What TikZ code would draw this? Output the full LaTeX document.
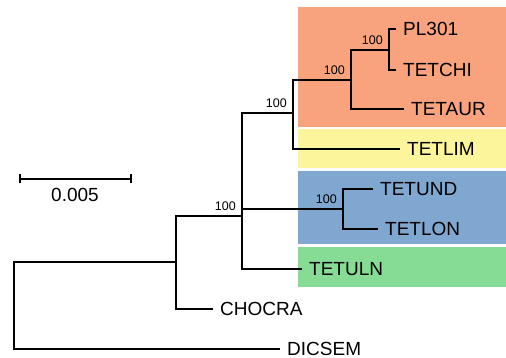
\documentclass[tikz,border=0pt]{standalone}
\usepackage{fontspec}
\setmainfont{Liberation Sans}
\definecolor{cladeorange}{RGB}{248,163,125}
\definecolor{cladeyellow}{RGB}{253,245,155}
\definecolor{cladeblue}{RGB}{127,167,207}
\definecolor{cladegreen}{RGB}{134,220,148}
\tikzset{
  branch/.style={draw=black, line width=1.8pt},
  leaf/.style={anchor=west, inner xsep=7pt, inner ysep=0pt, font=\fontsize{19}{22}\selectfont},
  boot/.style={anchor=south east, inner sep=0pt, font=\fontsize{12.5}{14}\selectfont, xshift=-6pt, yshift=5pt},
  clade/.style={draw=none}
}
\begin{document}
\begin{tikzpicture}[x=1pt,y=-1pt]
\useasboundingbox (0,0) rectangle (506,358);
% clade boxes
\fill[cladeorange] (298,7) rectangle (506,127);
\fill[cladeyellow] (298,129) rectangle (506,168);
\fill[cladeblue] (298,171) rectangle (506,244);
\fill[cladegreen] (298,247) rectangle (506,287);
% internal nodes
\coordinate (root) at (14,305);
\coordinate (n1) at (176,262);
\coordinate (n2) at (242,216);
\coordinate (n3) at (293,113);
\coordinate (n4) at (351,80);
\coordinate (n6) at (389,50);
\coordinate (n5) at (343,209);
% leaves
\node[leaf] (pl) at (396,29) {PL301};
\node[leaf] (tetchi) at (396,70) {TETCHI};
\node[leaf] (tetaur) at (404,109) {TETAUR};
\node[leaf] (tetlim) at (400,149) {TETLIM};
\node[leaf] (tetund) at (373,189) {TETUND};
\node[leaf] (tetlon) at (378,229) {TETLON};
\node[leaf] (tetuln) at (302,269) {TETULN};
\node[leaf] (chocra) at (213,309) {CHOCRA};
\node[leaf] (dicsem) at (280,349) {DICSEM};
% branches
\draw[branch] (root) |- (n1);
\draw[branch] (root) |- (dicsem);
\draw[branch] (n1) |- (n2);
\draw[branch] (n1) |- (chocra);
\draw[branch] (n2) |- (n3);
\draw[branch] (n2) |- (n5);
\draw[branch] (n2) |- (tetuln);
\draw[branch] (n3) |- (n4);
\draw[branch] (n3) |- (tetlim);
\draw[branch] (n4) |- (n6);
\draw[branch] (n4) |- (tetaur);
\draw[branch] (n6) |- (pl);
\draw[branch] (n6) |- (tetchi);
\draw[branch] (n5) |- (tetund);
\draw[branch] (n5) |- (tetlon);
% bootstrap values
\node[boot] (b2) at (n2) {100};
\node[boot] (b3) at (n3) {100};
\node[boot] (b4) at (n4) {100};
\node[boot] (b6) at (n6) {100};
\node[boot] (b5) at (n5) {100};
% scale bar
\coordinate (sa) at (20,179);
\coordinate (sb) at (131,179);
\draw[branch] (sa) -- (sb);
\draw[branch] ([yshift=-4.5pt]sa) -- ([yshift=4.5pt]sa);
\draw[branch] ([yshift=-4.5pt]sb) -- ([yshift=4.5pt]sb);
\node[inner sep=0pt, font=\fontsize{19}{22}\selectfont] (scale) at (75,195) {0.005};
\end{tikzpicture}
\end{document}
